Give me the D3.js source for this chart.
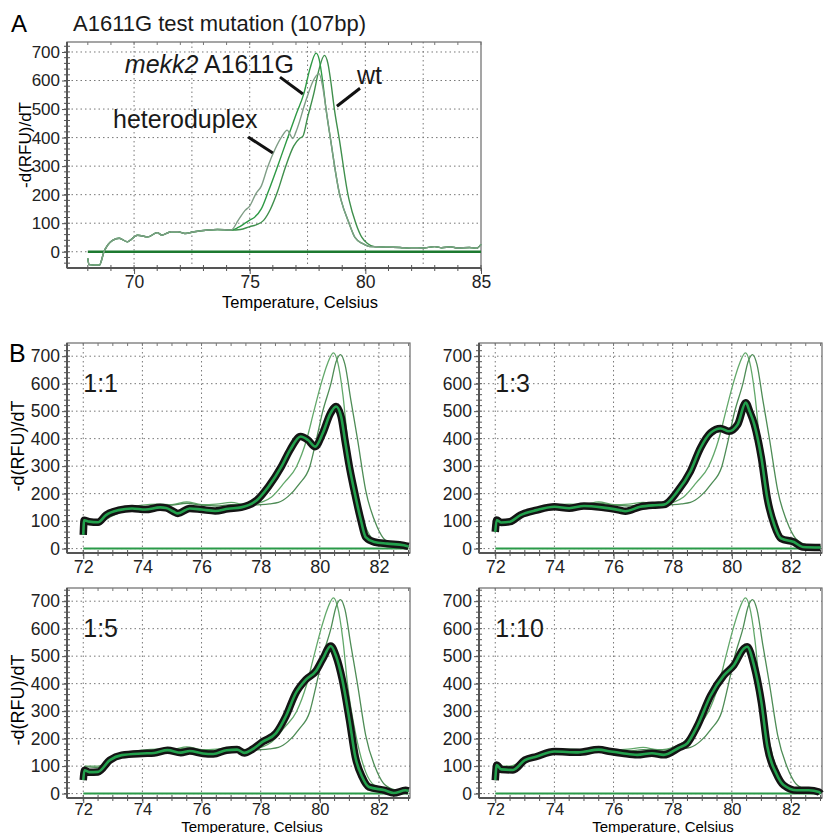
<!DOCTYPE html>
<html>
<head>
<meta charset="utf-8">
<script src="https://cdn.jsdelivr.net/npm/d3@7"></script>
<style>
  body { margin: 0; background: #fff; }
  svg { font-family: "Liberation Sans", Arial, sans-serif; }
  .grid line { stroke: #777; stroke-width: 1; stroke-dasharray: 1.5,3; }
  .axis path, .axis line { stroke: #555; }
  .axis text { fill: #222; }
</style>
</head>
<body>
<div id="chart"></div>
<script>
// ---- panel A : melt curves, A1611G test mutation ----
const aXTicks = [70, 75, 80, 85];
const aYTicks = [0, 100, 200, 300, 400, 500, 600, 700];

const aBaseline = [[68.0, -23], [68.05, -45], [68.5, -47], [68.7, 0], [69.07, 40], [69.36, 47], [69.7, 35], [70.15, 58], [70.6, 52], [71.0, 67], [71.2, 58], [71.6, 70], [71.9, 70], [72.2, 64], [72.6, 70], [73.2, 76], [73.6, 78], [74.2, 76]];
const aHetero = [[74.5, 110], [74.8, 145], [75.0, 160], [75.27, 204], [75.5, 230], [75.78, 298], [76.1, 360], [76.4, 405], [76.62, 426], [76.75, 410], [76.86, 397], [77.0, 420], [77.15, 455], [77.35, 510], [77.53, 554], [77.75, 600], [78.0, 624], [78.15, 580], [78.3, 500], [78.5, 391], [78.88, 204], [78.95, 181], [79.3, 99], [79.55, 50], [79.87, 29], [80.2, 18]];
const aMekk2 = [[74.5, 85], [74.8, 100], [75.0, 111], [75.2, 120], [75.5, 150], [75.8, 210], [76.2, 298], [76.6, 390], [77.0, 480], [77.34, 554], [77.6, 640], [77.87, 696], [78.0, 675], [78.15, 600], [78.3, 500], [78.5, 391], [78.88, 204], [78.95, 181], [79.3, 99], [79.55, 50], [79.87, 29], [80.2, 18]];
const aWt = [[74.6, 78], [75.0, 88], [75.3, 95], [75.6, 110], [75.9, 150], [76.2, 210], [76.55, 298], [76.9, 370], [77.15, 397], [77.3, 405], [77.5, 470], [77.77, 554], [78.0, 640], [78.23, 688], [78.38, 660], [78.5, 600], [78.66, 500], [78.88, 391], [79.24, 204], [79.3, 181], [79.59, 99], [79.85, 50], [80.09, 29], [80.4, 18]];
const aTail = [[80.6, 17], [81.0, 16], [81.5, 15], [82.0, 12], [82.5, 13], [83.0, 18], [83.3, 14], [83.7, 17], [84.0, 13], [84.5, 15], [84.8, 12], [85.0, 26]];

// ---- panel B : dilution series ----
const bXTicks = [72, 74, 76, 78, 80, 82];
const bYTicks = [0, 100, 200, 300, 400, 500, 600, 700];
const bRatios = ["1:1", "1:3", "1:5", "1:10"];

const refLeft = [[72.0, 75], [72.05, 100], [72.5, 100], [73.0, 125], [73.5, 148], [74.0, 158], [74.5, 162], [75.0, 160], [75.5, 170], [76.0, 160], [76.5, 162], [77.0, 168], [77.5, 160], [77.8, 162], [78.1, 172], [78.37, 188], [78.8, 240], [79.21, 298], [79.55, 395], [79.8, 500], [80.05, 602], [80.25, 670], [80.46, 712], [80.6, 680], [80.78, 560], [80.94, 395], [81.22, 213], [81.55, 79], [81.84, 30], [82.2, 15], [82.6, 10], [83.0, 8]];
const refRight = [[72.0, 80], [72.05, 98], [72.5, 95], [73.0, 120], [73.5, 140], [74.0, 150], [74.5, 155], [75.0, 158], [75.5, 165], [76.0, 158], [76.5, 155], [77.0, 160], [77.5, 158], [78.0, 160], [78.3, 163], [78.6, 168], [78.93, 190], [79.3, 235], [79.66, 298], [79.88, 395], [80.1, 500], [80.38, 602], [80.55, 680], [80.7, 706], [80.85, 670], [81.05, 540], [81.28, 395], [81.55, 213], [81.94, 79], [82.22, 30], [82.6, 12], [83.0, 8]];

const mix1to1 = [[72.0, 50], [72.03, 103], [72.2, 98], [72.5, 96], [72.77, 122], [73.2, 140], [73.65, 146], [74.1, 142], [74.6, 150], [74.8, 148], [75.05, 135], [75.2, 128], [75.6, 146], [76.0, 142], [76.46, 137], [76.9, 145], [77.34, 150], [77.59, 158], [77.87, 176], [78.26, 225], [78.7, 298], [79.0, 360], [79.35, 408], [79.6, 395], [79.84, 371], [80.1, 420], [80.35, 490], [80.55, 517], [80.72, 480], [80.85, 395], [81.0, 298], [81.16, 213], [81.39, 103], [81.55, 42], [81.84, 24], [82.28, 18], [82.84, 12], [83.0, 8]];
const mix1to3 = [[72.0, 61], [72.05, 104], [72.2, 95], [72.5, 98], [72.85, 122], [73.4, 140], [74.0, 152], [74.5, 147], [75.0, 155], [75.6, 150], [76.2, 140], [76.4, 136], [76.9, 152], [77.4, 158], [77.7, 160], [78.16, 208], [78.6, 281], [78.94, 366], [79.28, 421], [79.62, 437], [79.9, 427], [80.2, 452], [80.47, 531], [80.6, 500], [80.76, 452], [81.0, 330], [81.2, 183], [81.44, 85], [81.66, 37], [82.1, 24], [82.4, 6], [83.0, 4]];
const mix1to5 = [[72.0, 49], [72.04, 85], [72.2, 78], [72.5, 79], [72.9, 122], [73.3, 140], [74.0, 146], [74.4, 148], [74.85, 158], [75.3, 149], [75.6, 155], [76.05, 146], [76.4, 144], [76.85, 158], [77.2, 160], [77.45, 148], [77.7, 160], [78.07, 189], [78.52, 220], [78.85, 281], [79.19, 366], [79.53, 415], [79.87, 446], [80.09, 488], [80.37, 537], [80.55, 500], [80.76, 415], [81.0, 269], [81.2, 134], [81.43, 61], [81.66, 24], [82.2, 12], [82.5, 2], [82.9, 12], [83.0, 10]];
const mix1to10 = [[72.0, 49], [72.05, 104], [72.2, 88], [72.6, 86], [73.0, 122], [73.4, 135], [74.0, 153], [74.8, 150], [75.5, 160], [75.9, 153], [76.3, 147], [76.8, 141], [77.3, 147], [77.7, 141], [78.2, 166], [78.5, 184], [78.83, 245], [79.28, 356], [79.73, 430], [80.07, 467], [80.41, 528], [80.52, 534], [80.75, 467], [81.0, 332], [81.2, 172], [81.5, 74], [81.75, 31], [82.2, 12], [82.6, 12], [82.95, 6], [83.0, 0]];

const width = 831;
const height = 833;

const svg = d3.select('#chart')
    .append('svg')
    .attr('width', width)
    .attr('height', height);

function drawPanel(opt) {
    const g = svg.append('g').attr('transform', `translate(${opt.left}, ${opt.top})`);

    const x = d3.scaleLinear().domain(opt.xDomain).range([0, opt.w]);
    const y = d3.scaleLinear().domain(opt.yDomain).range([opt.h, 0]);

    // dotted grid
    g.append('g').attr('class', 'grid')
        .selectAll('line').data(opt.xGrid).enter().append('line')
        .attr('x1', d => x(d)).attr('x2', d => x(d))
        .attr('y1', 0).attr('y2', opt.h);
    g.append('g').attr('class', 'grid')
        .selectAll('line').data(opt.yTicks).enter().append('line')
        .attr('x1', 0).attr('x2', opt.w)
        .attr('y1', d => y(d)).attr('y2', d => y(d));

    // frame
    g.append('rect')
        .attr('width', opt.w).attr('height', opt.h)
        .attr('fill', 'none').attr('stroke', '#6a6a6a').attr('stroke-width', 1.2);

    // minor ticks
    g.append('g').selectAll('line').data(opt.xMinor).enter().append('line')
        .attr('x1', d => x(d)).attr('x2', d => x(d))
        .attr('y1', opt.h - 3).attr('y2', opt.h + 3)
        .attr('stroke', '#555');
    g.append('g').selectAll('line').data(opt.xMinor).enter().append('line')
        .attr('x1', d => x(d)).attr('x2', d => x(d))
        .attr('y1', 0).attr('y2', 3)
        .attr('stroke', '#777');
    g.append('g').selectAll('line').data(opt.yMinor).enter().append('line')
        .attr('x1', -3).attr('x2', 3)
        .attr('y1', d => y(d)).attr('y2', d => y(d))
        .attr('stroke', '#555');

    const xAxis = d3.axisBottom(x).tickValues(opt.xTicks).tickSize(opt.xTick).tickPadding(opt.xPad);
    const yAxis = d3.axisLeft(y).tickValues(opt.yTicks).tickSize(5).tickPadding(2);

    g.append('g').attr('class', 'axis')
        .attr('transform', `translate(0, ${opt.h})`)
        .call(xAxis)
        .call(s => s.select('.domain').attr('stroke-width', 2).attr('d', `M0,0H${opt.w}`))
        .selectAll('text').style('font-size', opt.xFont + 'px');

    g.append('g').attr('class', 'axis')
        .call(yAxis)
        .call(s => s.select('.domain').attr('stroke-width', 2).attr('d', `M0,0V${opt.h}`))
        .selectAll('text').style('font-size', opt.yFont + 'px');

    return { g, x, y };
}

const line = (x, y) => d3.line()
    .x(d => x(d[0]))
    .y(d => y(d[1]))
    .curve(d3.curveMonotoneX);

// ---------------- panel A ----------------
const A = drawPanel({
    left: 67, top: 42, w: 414, h: 226,
    xDomain: [67.1, 85], yDomain: [-57, 735],
    xTicks: aXTicks, yTicks: aYTicks,
    xGrid: [70, 72.5, 75, 77.5, 80, 82.5],
    xMinor: d3.range(68, 86, 1), yMinor: d3.range(-40, 735, 20),
    xTick: 6, xPad: 2, xFont: 17.5, yFont: 17
});

A.g.append('path')
    .datum([[68, 0], [85, 0]])
    .attr('d', line(A.x, A.y))
    .attr('fill', 'none').attr('stroke', '#1d7a30').attr('stroke-width', 2.5);

const aSeries = [
    { data: aBaseline.concat(aWt, aTail), color: '#3f8f4c' },
    { data: aBaseline.concat(aMekk2, aTail), color: '#2e9a45' },
    { data: aBaseline.concat(aHetero, aTail), color: '#7f9d86' }
];
A.g.selectAll('.curveA').data(aSeries).enter().append('path')
    .attr('class', 'curveA')
    .attr('d', d => line(A.x, A.y)(d.data))
    .attr('fill', 'none')
    .attr('stroke', d => d.color)
    .attr('stroke-width', 1.4);

// annotation leaders (in data units)
const leaders = [
    [[76.31, 612], [77.3, 553]],
    [[79.77, 573], [78.77, 510]],
    [[74.93, 402], [76.0, 346]]
];
A.g.selectAll('.leader').data(leaders).enter().append('line')
    .attr('class', 'leader')
    .attr('x1', d => A.x(d[0][0])).attr('y1', d => A.y(d[0][1]))
    .attr('x2', d => A.x(d[1][0])).attr('y2', d => A.y(d[1][1]))
    .attr('stroke', '#111').attr('stroke-width', 3);

const mekkLabel = A.g.append('text')
    .attr('x', A.x(69.6)).attr('y', A.y(627))
    .style('font-size', '25px').attr('fill', '#1a1a1a');
mekkLabel.append('tspan').style('font-style', 'italic').text('mekk2');
mekkLabel.append('tspan').text(' A1611G');

A.g.append('text')
    .attr('x', A.x(79.64)).attr('y', A.y(588))
    .style('font-size', '25px').attr('fill', '#1a1a1a')
    .text('wt');

A.g.append('text')
    .attr('x', A.x(69.09)).attr('y', A.y(432))
    .style('font-size', '25px').attr('fill', '#1a1a1a')
    .text('heteroduplex');

svg.append('text').attr('x', 11).attr('y', 32)
    .style('font-size', '24px').text('A');
svg.append('text').attr('x', 73).attr('y', 31)
    .style('font-size', '22px').attr('fill', '#1a1a1a')
    .text('A1611G test mutation (107bp)');

svg.append('text')
    .attr('transform', 'translate(31, 145) rotate(-90)')
    .attr('text-anchor', 'middle')
    .style('font-size', '17px')
    .text('-d(RFU)/dT');

svg.append('text')
    .attr('x', 300).attr('y', 307.5)
    .attr('text-anchor', 'middle')
    .style('font-size', '16.5px')
    .text('Temperature, Celsius');

// ---------------- panel B ----------------
svg.append('text').attr('x', 9).attr('y', 362)
    .style('font-size', '25px').text('B');

const bMixes = [mix1to1, mix1to3, mix1to5, mix1to10];
const bSpots = [[67, 343], [479, 343], [67, 588], [479, 588]];

bMixes.forEach((mix, i) => {
    const P = drawPanel({
        left: bSpots[i][0], top: bSpots[i][1], w: 343, h: 210,
        xDomain: [71.45, 83.05], yDomain: [-16, 748],
        xTicks: bXTicks, yTicks: bYTicks,
        xGrid: bXTicks,
        xMinor: d3.range(72, 83.01, 0.5), yMinor: d3.range(0, 748, 20),
        xTick: i < 2 ? 6 : 5, xPad: i < 2 ? 1 : 0, xFont: i < 2 ? 18 : 16.5, yFont: 17.5
    });

    P.g.append('path')
        .datum([[72, 0], [83, 0]])
        .attr('d', line(P.x, P.y))
        .attr('fill', 'none').attr('stroke', '#2a9a48').attr('stroke-width', 2);

    P.g.append('path').datum(refLeft)
        .attr('d', line(P.x, P.y))
        .attr('fill', 'none').attr('stroke', '#62a86a').attr('stroke-width', 1.3);
    P.g.append('path').datum(refRight)
        .attr('d', line(P.x, P.y))
        .attr('fill', 'none').attr('stroke', '#4e8c56').attr('stroke-width', 1.3);

    P.g.append('path').datum(mix)
        .attr('d', line(P.x, P.y))
        .attr('fill', 'none').attr('stroke', '#141414').attr('stroke-width', 7.5)
        .attr('stroke-linejoin', 'round');
    P.g.append('path').datum(mix)
        .attr('d', line(P.x, P.y))
        .attr('fill', 'none').attr('stroke', '#22a04c').attr('stroke-width', 2.6)
        .attr('stroke-linejoin', 'round');

    P.g.append('text')
        .attr('x', P.x(72)).attr('y', P.y(570))
        .style('font-size', '25px').attr('fill', '#1a1a1a')
        .text(bRatios[i]);
});

// y titles for left column, x titles for bottom row
[446, 700].forEach(cy => {
    svg.append('text')
        .attr('transform', `translate(24, ${cy}) rotate(-90)`)
        .attr('text-anchor', 'middle')
        .style('font-size', '18px')
        .text('-d(RFU)/dT');
});
[252, 663].forEach(cx => {
    svg.append('text')
        .attr('x', cx).attr('y', 831.5)
        .attr('text-anchor', 'middle')
        .style('font-size', '15px')
        .text('Temperature, Celsius');
});
</script>
</body>
</html>
